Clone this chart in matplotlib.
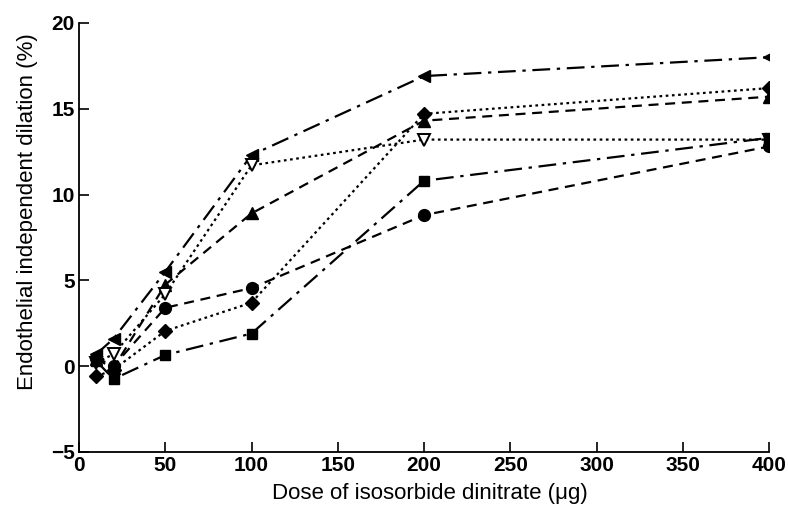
import matplotlib
matplotlib.use("Agg")
import matplotlib.pyplot as plt

dose = [10, 20, 50, 100, 200, 400]

s_ltri = [0.7, 1.6, 5.5, 12.3, 16.9, 18.0]
s_diam = [-0.6, -0.2, 2.05, 3.7, 14.7, 16.2]
s_tri = [0.4, -0.1, 4.75, 8.9, 14.3, 15.7]
s_vtri = [0.2, 0.7, 4.2, 11.7, 13.2, 13.2]
s_sq = [0.3, -0.75, 0.65, 1.9, 10.8, 13.3]
s_circ = [0.5, 0.0, 3.4, 4.55, 8.8, 12.8]

xticks = [0, 50, 100, 150, 200, 250, 300, 350, 400]
yticks = [-5, 0, 5, 10, 15, 20]

plt.rcParams['font.family'] = ['Liberation Sans', 'DejaVu Sans']

fig = plt.figure(figsize=(7.88, 5.05), dpi=100)
ax = fig.add_axes([0.1003, 0.105, 0.8756, 0.8497])

lw = 1.6
ax.plot(dose, s_ltri, color='black', lw=lw, dashes=(8, 3, 1.5, 3), marker='<', ms=8.5, mfc='black')
ax.plot(dose, s_diam, color='black', lw=lw, dashes=(1.2, 1.6), marker='D', ms=7, mfc='black')
ax.plot(dose, s_tri, color='black', lw=lw, dashes=(4.5, 3), marker='^', ms=8.5, mfc='black')
ax.plot(dose, s_vtri, color='black', lw=lw, dashes=(1.2, 1.6), marker='v', ms=8.5, mfc='white', mew=1.4)
ax.plot(dose, s_sq, color='black', lw=lw, dashes=(8, 3, 1.5, 3), marker='s', ms=7.5, mfc='black')
ax.plot(dose, s_circ, color='black', lw=lw, dashes=(4.5, 3), marker='o', ms=8.5, mfc='black')

ax.set_xlim(0, 400)
ax.set_ylim(-5, 20)
ax.set_xticks(xticks)
ax.set_yticks(yticks)
ax.set_xticklabels([str(t) for t in xticks], fontweight='bold', fontsize=15)
ax.set_yticklabels([str(t).replace('-', '\u2212') for t in yticks], fontweight='bold', fontsize=15)
ax.tick_params(direction='in', length=7, width=1.2, pad=3)
ax.spines['top'].set_visible(False)
ax.spines['right'].set_visible(False)
ax.spines['left'].set_linewidth(1.3)
ax.spines['bottom'].set_linewidth(1.3)

ax.set_xlabel('Dose of isosorbide dinitrate (\u03bcg)', fontsize=16)
ax.set_ylabel('Endothelial independent dilation (%)', fontsize=16)
ax.xaxis.set_label_coords(0.509, -0.072)
ax.yaxis.set_label_coords(-0.06, 0.56)

fig.savefig('out.png', dpi=100)
